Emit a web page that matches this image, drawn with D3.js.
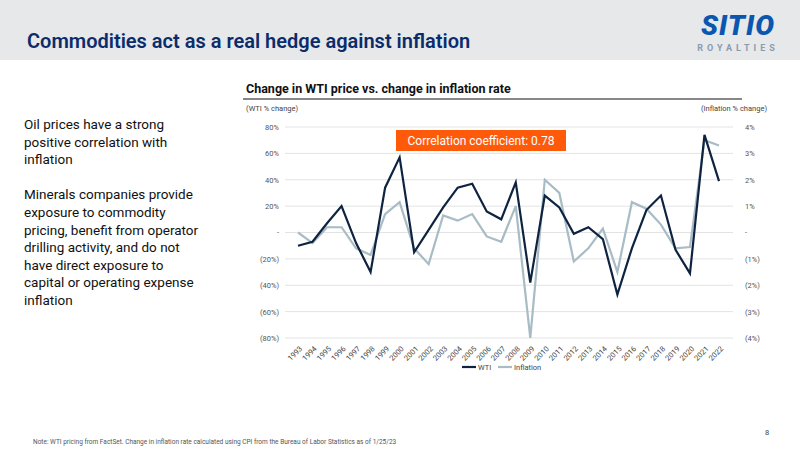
<!DOCTYPE html>
<html><head><meta charset="utf-8">
<script src="https://cdn.jsdelivr.net/npm/d3@7"></script>
<style>
body{margin:0;background:#fff;font-family:Roboto,"Liberation Sans",sans-serif;}
</style></head>
<body><svg id="c" width="800" height="450"></svg>
<script>
const years = d3.range(1993, 2023).map(String);
const wti = [-10,-7,7,20,-8,-30,34,57,-15,2,19,34,37,16,10,38,-38,28,19,-1,4,-5,-47,-12,17,28,-13,-31,74,39];
const inflation = [0,-0.4,0.2,0.2,-0.6,-0.85,0.7,1.15,-0.6,-1.2,0.65,0.45,0.7,-0.15,-0.35,1.0,-4.0,2.0,1.5,-1.1,-0.6,0.15,-1.5,1.15,0.9,0.3,-0.6,-0.55,3.5,3.3];
const leftTicks = [-80,-60,-40,-20,0,20,40,60,80];
const rightTicks = [-4,-3,-2,-1,0,1,2,3,4];

const svg = d3.select("#c");
svg.append("rect").attr("width",800).attr("height",60).attr("fill","#e6e8ea");
svg.append("text").attr("x",27).attr("y",48).attr("fill","#0b2c6b").attr("font-size",20).attr("font-weight",600).text("Commodities act as a real hedge against inflation");
// logo
svg.append("text").attr("x",738).attr("y",35).attr("text-anchor","middle").attr("fill","#0b57b0").attr("font-size",28).attr("font-weight",900).attr("font-style","italic").attr("letter-spacing",1).text("SITIO");
svg.append("text").attr("x",738).attr("y",51).attr("text-anchor","middle").attr("fill","#8a9bb0").attr("font-size",9).attr("font-weight",700).attr("letter-spacing",4).text("ROYALTIES");

const para = ["Oil prices have a strong","positive correlation with","inflation","","Minerals companies provide","exposure to commodity","pricing, benefit from operator","drilling activity, and do not","have direct exposure to","capital or operating expense","inflation"];
svg.append("text").attr("x",24).attr("y",129).attr("font-size",13.5).attr("fill","#111")
  .selectAll("tspan").data(para).join("tspan").attr("x",24).attr("dy",(d,i)=>i?17.6:0).text(d=>d||" ");

svg.append("text").attr("x",246).attr("y",93).attr("font-size",12.5).attr("font-weight",700).attr("fill","#111").text("Change in WTI price vs. change in inflation rate");
svg.append("line").attr("x1",243).attr("x2",742).attr("y1",99).attr("y2",99).attr("stroke","#111").attr("stroke-width",1);

const x = d3.scalePoint().domain(years).range([298,719]);
const yL = d3.scaleLinear().domain([-80,80]).range([338,127]);
const yR = d3.scaleLinear().domain([-4,4]).range([338,127]);

svg.append("g").selectAll("line").data(leftTicks).join("line")
  .attr("x1",285).attr("x2",733).attr("y1",d=>yL(d)).attr("y2",d=>yL(d)).attr("stroke","#e3e3e3");

const fmtL = d=>d===0?"-":d<0?`(${-d}%)`:`${d}%`;
const axL = svg.append("g").attr("transform","translate(282,0)").call(d3.axisLeft(yL).tickValues(leftTicks).tickFormat(fmtL).tickSize(0));
const axR = svg.append("g").attr("transform","translate(736,0)").call(d3.axisRight(yR).tickValues(rightTicks).tickFormat(fmtL).tickSize(0));
[axL,axR].forEach(a=>{a.select(".domain").remove();a.selectAll("text").attr("font-size",7.5).attr("fill","#555").attr("font-family","Roboto,sans-serif");});
axR.selectAll("text").attr("dx",6);

const axX = svg.append("g").attr("transform","translate(0,343)").call(d3.axisBottom(x).tickSize(0));
axX.select(".domain").remove();
axX.selectAll("text").attr("font-size",7.5).attr("fill","#444").attr("font-family","Roboto,sans-serif")
  .attr("text-anchor","end").attr("transform","rotate(-45)").attr("dx","-0.2em").attr("dy","0.6em");

svg.append("text").attr("x",246).attr("y",111).attr("font-size",7.5).attr("fill","#444").text("(WTI % change)");
svg.append("text").attr("x",767).attr("y",111).attr("font-size",7.5).attr("fill","#444").attr("text-anchor","end").text("(Inflation % change)");

svg.append("path").datum(inflation).attr("fill","none").attr("stroke","#a7bcc4").attr("stroke-width",2.2)
  .attr("d",d3.line().x((d,i)=>x(years[i])).y(d=>yR(d)));
svg.append("path").datum(wti).attr("fill","none").attr("stroke","#0e2340").attr("stroke-width",2.2)
  .attr("d",d3.line().x((d,i)=>x(years[i])).y(d=>yL(d)));

svg.append("rect").attr("x",396).attr("y",130).attr("width",170).attr("height",21).attr("fill","#ff5a0a");
svg.append("text").attr("x",481).attr("y",145).attr("text-anchor","middle").attr("fill","#fff").attr("font-size",12).text("Correlation coefficient: 0.78");

const lg = svg.append("g").attr("transform","translate(462,367)");
lg.append("line").attr("x1",0).attr("x2",14).attr("stroke","#0e2340").attr("stroke-width",2.2);
lg.append("text").attr("x",16).attr("y",3).attr("font-size",7.5).attr("fill","#444").text("WTI");
lg.append("line").attr("x1",36).attr("x2",50).attr("stroke","#a7bcc4").attr("stroke-width",2.2);
lg.append("text").attr("x",52).attr("y",3).attr("font-size",7.5).attr("fill","#444").text("Inflation");

svg.append("text").attr("x",765).attr("y",435).attr("font-size",7.5).attr("fill","#444").text("8");
svg.append("text").attr("x",33).attr("y",444).attr("font-size",6.5).attr("fill","#555").text("Note:  WTI pricing from FactSet. Change in inflation rate calculated using CPI from the Bureau of Labor Statistics as of 1/25/23");
</script></body></html>
